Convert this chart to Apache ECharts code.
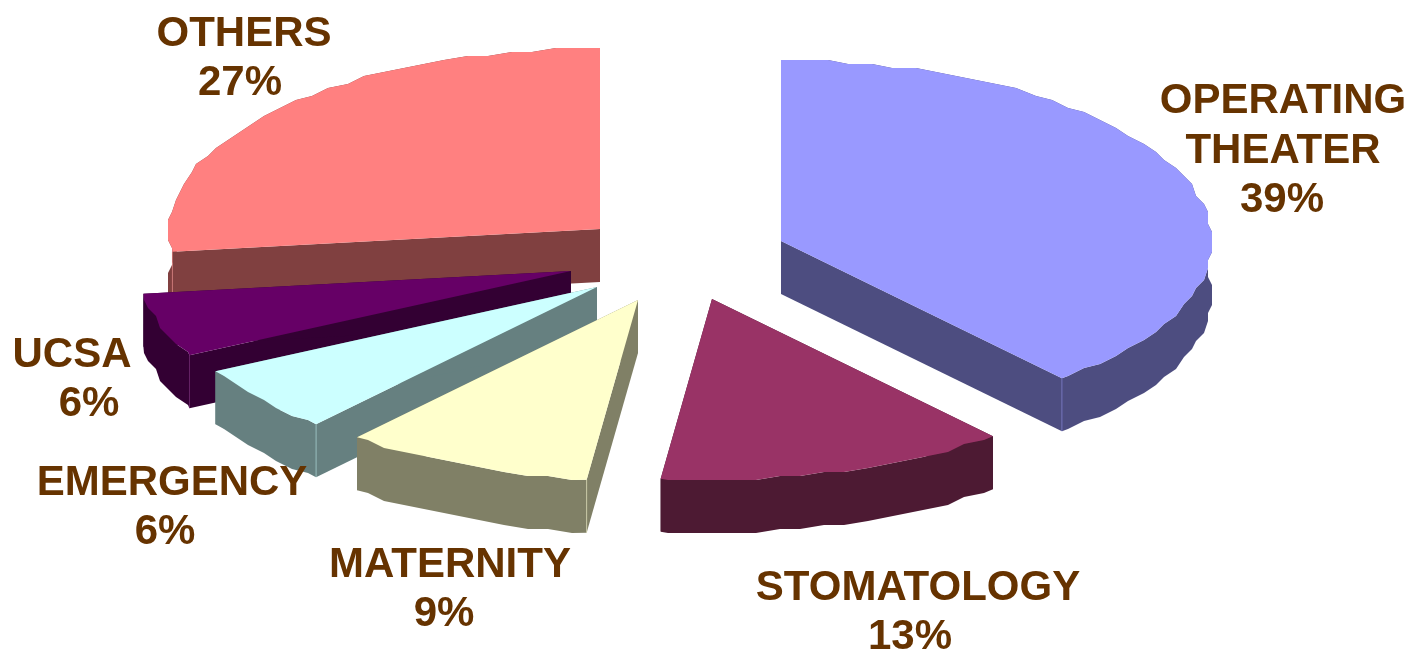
<!DOCTYPE html>
<html>
<head>
<meta charset="utf-8">
<title>Share by department</title>
<script src="https://cdn.jsdelivr.net/npm/echarts@6/dist/echarts.min.js"></script>
<style>
  html, body { margin: 0; padding: 0; background: #fff; }
  #chart { width: 1411px; height: 652px; }
</style>
</head>
<body>
<div id="chart"></div>
<script>
// clockwise from 12 o'clock; the labels show these rounded
const categories = ['OPERATING\nTHEATER', 'STOMATOLOGY', 'MATERNITY', 'EMERGENCY', 'UCSA', 'OTHERS'];
const shares = [38.7, 13.2, 9.4, 6.0, 5.7, 27.0];

const topColors = ['#9999FF', '#993366', '#FFFFCC', '#CCFFFF', '#660066', '#FF8080'];
const wallColors = ['#4D4D80', '#4D1A33', '#808066', '#668080', '#330033', '#804040'];

// where each exploded slice has its tip on the page
const tipX = [781, 712, 638, 597, 571, 600];
const tipY = [241, 299, 300, 287, 271, 229];
// text blocks: centre of the name, centre of the percent, middle of the block
const nameX = [1283, 918, 450, 172, 72, 244];
const percentX = [1282, 910, 444, 165, 89, 240];
const labelY = [151, 613, 590, 508, 380, 59];

const radiusX = 431;
const radiusY = 181;
const depth = 53;
const arcStep = 3;   // degrees between rim points
const rimSnap = 4;   // the rim of the original is coarse and wobbly
const lineHeight = 49.5;

const total = shares.reduce((a, b) => a + b, 0);
const startAngles = [];
shares.reduce((sum, v, i) => {
  startAngles[i] = sum / total * 360;
  return sum + v;
}, 0);

function rimPoint(i, deg, snap) {
  const rad = deg * Math.PI / 180;
  let x = tipX[i] + radiusX * Math.sin(rad);
  let y = tipY[i] - radiusY * Math.cos(rad);
  if (snap) {
    x = Math.round(x / rimSnap) * rimSnap;
    y = Math.round(y / rimSnap) * rimSnap;
  }
  return [x, y];
}

function rimPoints(i, from, to) {
  const pts = [rimPoint(i, from, false)];
  for (let a = Math.ceil(from / arcStep) * arcStep; a < to; a += arcStep) {
    if (a > from) pts.push(rimPoint(i, a, true));
  }
  pts.push(rimPoint(i, to, false));
  return pts;
}

const lower = p => [p[0], p[1] + depth];

function seam(p, color) {
  return {
    type: 'line',
    shape: { x1: p[0], y1: p[1], x2: p[0], y2: p[1] + depth },
    style: { stroke: color, lineWidth: 1, opacity: 0.45 }
  };
}

function labelText(text, x, y) {
  return {
    type: 'text',
    z2: 10,
    style: {
      text: text,
      x: x,
      y: y,
      align: 'center',
      verticalAlign: 'top',
      fill: '#663300',
      font: 'bold 42px "Liberation Sans", Arial, sans-serif',
      lineHeight: lineHeight
    }
  };
}

function renderSlice(params, api) {
  const i = api.value(0);
  const sweep = api.value(1) / total * 360;
  const from = startAngles[i];
  const to = from + sweep;
  const rim = rimPoints(i, from, to);
  const tip = [tipX[i], tipY[i]];
  const first = rim[0];
  const last = rim[rim.length - 1];
  const wall = { fill: wallColors[i] };

  const children = [
    { type: 'polygon', shape: { points: [tip, first, lower(first), lower(tip)] }, style: wall },
    { type: 'polygon', shape: { points: [tip, last, lower(last), lower(tip)] }, style: wall },
    { type: 'polygon', shape: { points: rim.concat(rim.map(lower).reverse()) }, style: wall }
  ];
  // only corners that face the viewer show their pale edge
  if (from > 180 && from < 270) children.push(seam(first, topColors[i]));
  if (to > 90 && to < 180) children.push(seam(last, topColors[i]));

  children.push({ type: 'polygon', shape: { points: [tip].concat(rim) }, style: { fill: topColors[i] } });

  const nameLines = categories[i].split('\n').length;
  const top = labelY[i] - (nameLines + 1) * lineHeight / 2;
  children.push(labelText(categories[i], nameX[i], top));
  children.push(labelText(Math.round(api.value(1)) + '%', percentX[i], top + nameLines * lineHeight));
  return { type: 'group', children: children };
}

const chart = echarts.init(document.getElementById('chart'));
// back slices first so the nearer ones lie over their walls
const rows = shares.map((v, i) => [i, v]).reverse();
chart.setOption({
  animation: false,
  backgroundColor: '#ffffff',
  series: [{
    type: 'custom',
    coordinateSystem: 'none',
    renderItem: renderSlice,
    data: rows
  }]
});
</script>
</body>
</html>
